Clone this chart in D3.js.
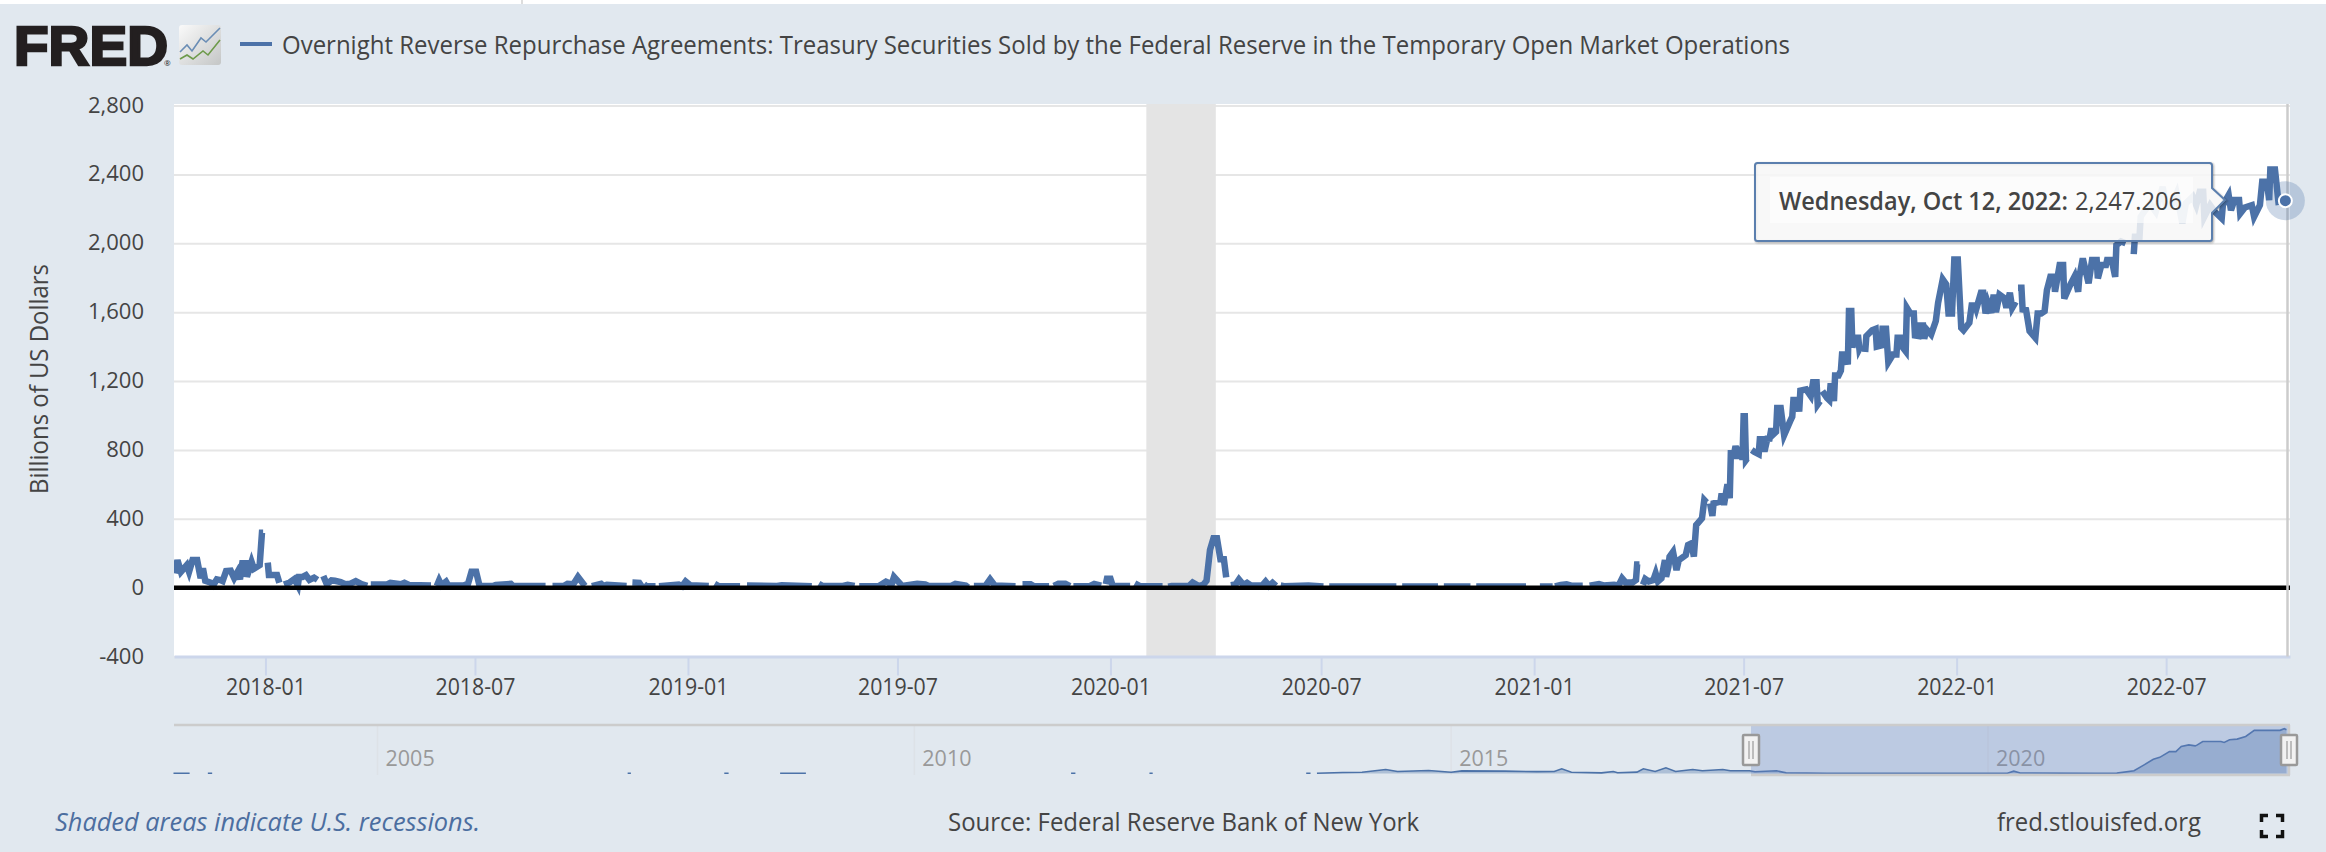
<!DOCTYPE html>
<html>
<head>
<meta charset="utf-8">
<script src="https://d3js.org/d3.v7.min.js"></script>
<style>
  html, body { margin: 0; padding: 0; background: #e1e8ef; overflow: hidden; }
  text { font-family: "Open Sans", sans-serif; fill: #444; }
</style>
</head>
<body>
<div id="chart"></div>
<script>
// values, one pair of arrays per year (null = gap in the line)
var dates2017 = ["10-15","10-17","10-20","10-25","10-27","10-30","11-03","11-06",
  "11-08","11-10","11-15","11-17","11-20","11-23","11-25","11-28",
  "12-02","12-05","12-08","12-10","12-12","12-15","12-16","12-20",
  "12-22","12-27","12-29","12-30","12-31"];
var values2017 = [83,160,92,131,92,160,160,55,
  112,40,28,15,48,44,38,96,
  98,55,92,48,141,141,63,150,
  110,131,319,319,null];

var dates2018 = ["01-03","01-04","01-08","01-11","01-13","01-15","01-17","01-22",
  "01-26","01-29","01-30","02-02","02-05","02-08","02-12","02-15",
  "02-17","02-20","02-23","02-27","03-02","03-07","03-11","03-15",
  "03-20","03-25","03-30","03-31","04-02","04-16","04-19","04-28",
  "05-01","05-05","05-24","05-27","05-29","05-31","06-02","06-06",
  "06-08","06-21","06-25","06-28","07-02","07-05","07-17","07-19",
  "08-01","08-03","08-31","09-03","09-06","09-16","09-19","09-24",
  "09-28","10-04","10-08","10-10","10-18","10-20","10-23","11-09",
  "11-11","11-14","11-20","11-22","11-23","11-24","11-26","12-04",
  "12-05","12-07","12-24","12-27","12-30"];
var values2018 = [145,73,73,73,28,null,18,30,
  50,12,62,62,72,45,58,45,
  null,68,20,42,40,32,20,22,
  38,20,10,null,18,18,28,20,
  28,15,12,null,10,42,14,35,
  12,12,22,92,92,10,10,15,
  22,9,9,null,9,10,22,20,
  62,10,null,8,22,10,16,9,
  null,30,28,8,null,20,8,8,
  null,8,18,8,36];

var dates2019 = ["01-03","01-19","01-21","01-24","01-27","02-15","02-18","02-21",
  "03-19","03-23","04-18","04-20","04-24","04-27","05-15","05-19",
  "05-25","05-27","05-29","06-15","06-21","06-26","06-28","07-05",
  "07-18","07-25","07-28","08-16","08-20","08-29","08-31","09-02",
  "09-05","09-15","09-19","09-23","10-11","10-13","10-17","10-24",
  "10-27","11-09","11-11","11-13","11-17","11-23","11-27","11-28",
  "11-30","12-14","12-18","12-24","12-26","12-28","12-29"];
var values2019 = [14,9,null,22,10,8,null,12,
  10,14,8,null,22,10,10,17,
  10,null,8,10,35,20,62,10,
  22,18,9,9,22,12,2,null,
  10,10,48,12,8,null,20,20,
  8,8,null,10,22,22,8,null,
  8,9,22,12,null,20,52];

var dates2020 = ["01-01","01-03","01-18","01-20","01-22","01-26","02-15","02-18",
  "02-20","02-23","03-09","03-12","03-17","03-21","03-24","03-27",
  "03-30","04-02","04-05","04-08","04-10","04-12","04-14","04-18",
  "04-21","04-25","04-28","05-01","05-11","05-14","05-17","05-20",
  "05-23","05-25","05-27","05-30","06-20","07-03","07-05","07-08",
  "09-04","09-06","09-09","10-10","10-12","10-15","11-07","11-10",
  "11-12","12-25","12-28"];
var values2020 = [52,10,10,null,25,10,8,null,
  5,10,10,30,10,15,40,219,
  287,287,165,165,60,null,14,18,
  48,15,28,14,12,35,10,28,
  10,null,12,8,12,7,null,7,
  7,null,7,7,null,7,7,null,
  7,7,null];

var dates2021 = ["01-06","01-17","01-18","01-19","01-24","01-29","02-02","02-12",
  "02-14","02-18","02-26","03-02","03-11","03-15","03-18","03-21",
  "03-27","03-30","03-31","04-02","04-03","04-05","04-07","04-10",
  "04-14","04-16","04-18","04-21","04-24","04-25","04-27","04-28",
  "05-01","05-04","05-06","05-12","05-14","05-17","05-19","05-21",
  "05-26","05-28","05-30","05-31","06-02","06-04","06-05","06-11",
  "06-12","06-14","06-17","06-19","06-20","06-22","06-24","06-27",
  "06-29","06-30","07-01","07-02","07-03","07-04","07-06","07-08",
  "07-10","07-14","07-15","07-18","07-19","07-22","07-23","07-25",
  "07-26","07-29","07-30","08-02","08-05","08-10","08-12","08-13",
  "08-17","08-18","08-19","08-24","08-28","08-30","09-02","09-03",
  "09-05","09-06","09-07","09-11","09-13","09-14","09-16","09-17",
  "09-18","09-21","09-23","09-24","09-27","09-29","09-30","10-02",
  "10-03","10-04","10-08","10-09","10-10","10-12","10-14","10-15",
  "10-20","10-23","10-24","10-28","10-29","11-01","11-03","11-07",
  "11-10","11-11","11-14","11-15","11-18","11-19","11-22","11-25",
  "11-26","11-29","11-30","12-03","12-04","12-06","12-10","12-14",
  "12-16","12-20","12-23","12-25","12-28","12-30"];
var values2021 = [7,7,null,7,15,19,11,11,
  null,11,21,13,17,13,54,30,
  30,44,135,135,null,17,50,36,
  44,83,36,54,160,63,120,180,
  208,102,160,189,247,257,180,363,
  402,509,495,null,489,416,489,499,
  547,480,600,520,799,750,822,750,
  818,741,996,996,741,750,null,799,
  790,776,861,861,790,880,850,925,
  886,905,1043,1043,886,964,993,1089,
  1089,1022,1144,1151,1112,1193,1193,1064,
  1083,null,1141,1102,1089,1170,1170,1083,
  1232,1232,1260,1354,1354,1296,1606,1606,
  1393,1451,1451,1387,1400,null,1368,1461,
  1495,1503,1399,1406,1503,1503,1310,1354,
  1354,1451,1451,1399,1373,1625,1592,1592,
  1464,1461,1522,1522,1445,1500,1470,1548,
  1654,1790,1761,1592,1592,1906];

var dates2022 = ["01-02","01-05","01-07","01-12","01-14","01-17","01-18","01-22",
  "01-24","01-26","01-28","01-31","02-02","02-04","02-07","02-11",
  "02-13","02-16","02-18","02-21","02-22","02-23","02-26","02-27",
  "03-02","03-05","03-10","03-12","03-15","03-18","03-20","03-23",
  "03-26","03-27","03-31","04-03","04-04","04-09","04-13","04-16",
  "04-17","04-20","04-25","04-28","05-02","05-03","05-06","05-10",
  "05-11","05-15","05-18","05-19","05-23","05-27","05-30","06-03",
  "06-04","06-08","06-09","06-12","06-17","06-22","06-28","07-01",
  "07-05","07-10","07-15","07-18","07-24","07-27","07-30","08-02",
  "08-03","08-08","08-12","08-18","08-19","08-24","08-26","08-29",
  "09-02","09-03","09-07","09-13","09-15","09-20","09-22","09-26",
  "09-28","09-29","10-03","10-06","10-12"];
var values2022 = [1906,1509,1495,1538,1639,1639,1619,1712,
  1712,1592,1654,1596,1702,1600,1702,1683,
  1625,1712,1625,1660,null,1741,1741,1615,
  1612,1490,1451,1592,1592,1606,1728,1805,
  1805,1718,1873,1873,1679,1757,1809,1718,
  1805,1912,1767,1902,1902,1796,1873,1873,
  1902,1902,1805,1989,2010,2000,null,1937,
  2038,2038,2154,2183,2230,2183,2328,2212,
  2212,2289,2115,2231,2270,2221,2299,2299,
  2154,2221,2183,2144,2221,2280,2192,2251,
  2251,2173,2208,2221,2154,2221,2357,2357,
  2251,2429,2429,2241,2247];

var recessionStart = "2020-02-01";
var recessionEnd = "2020-04-01";
var yTicks = [-400, 0, 400, 800, 1200, 1600, 2000, 2400, 2800];
var xTicks = ["2018-01-01","2018-07-01","2019-01-01","2019-07-01","2020-01-01","2020-07-01","2021-01-01","2021-07-01","2022-01-01","2022-07-01"];
var lastDate = "2022-10-12";
var lastValue = 2247.206;

// navigator: the whole series since 2003, much coarser
var navYears = [2003.1,2003.25,2003.3,2003.42,2003.46,2003.5,2007.33,2007.36,2007.4,
  2008.23,2008.27,2008.3,2008.75,2008.99,2009.02,2011.46,2011.5,2011.55,2012.19,2012.22,2012.3,
  2013.65,2013.69,2013.72,2013.75,2013.99,2014.17,2014.39,2014.5,2014.79,2015.0,2015.1,2015.5,
  2015.8,2015.96,2016.03,2016.12,2016.4,2016.51,2016.55,2016.73,2016.79,2016.9,2017.0,2017.09,
  2017.25,2017.34,2017.53,2017.6,2017.78,2017.83,2018.03,2018.12,2018.5,2019.0,2019.5,2020.0,
  2020.18,2020.24,2020.3,2021.0,2021.2,2021.36,2021.45,2021.54,2021.6,2021.69,2021.75,2021.8,
  2021.87,2021.93,2021.95,2022.0,2022.17,2022.2,2022.25,2022.32,2022.4,2022.48,2022.72,2022.76,2022.78];
var navValues = [10,10,null,10,10,null,10,10,null,
  10,10,null,10,10,null,10,10,null,10,10,null,
  10,10,null,10,54,70,216,110,160,70,140,125,
  100,105,250,70,36,108,40,72,252,108,306,108,
  216,144,216,144,144,90,144,36,10,8,10,10,
  10,126,30,8,18,144,450,756,864,1170,1170,1440,
  1530,1476,1530,1710,1710,1656,1800,1836,1980,2304,2304,2394,2340];
var navLabels = [2005, 2010, 2015, 2020];

var titleText = "Overnight Reverse Repurchase Agreements: Treasury Securities Sold by the Federal Reserve in the Temporary Open Market Operations";
var yLabel = "Billions of US Dollars";

function yearRows(year, days, vals) {
  return days.map(function (md, i) {
    return { date: new Date(year + "-" + md + "T00:00:00Z"), value: vals[i] };
  });
}

var rrpData = [].concat(
  yearRows(2017, dates2017, values2017),
  yearRows(2018, dates2018, values2018),
  yearRows(2019, dates2019, values2019),
  yearRows(2020, dates2020, values2020),
  yearRows(2021, dates2021, values2021),
  yearRows(2022, dates2022, values2022)
);

var width = 2326, height = 852;
var plotLeft = 174, plotRight = 2290, plotTop = 104, plotBottom = 656.5;
var lineColor = "#4c72a8";

var svg = d3.select("#chart").append("svg")
  .attr("width", width).attr("height", height)
  .style("display", "block");

svg.append("rect").attr("width", width).attr("height", height).attr("fill", "#e1e8ef");
svg.append("rect").attr("width", width).attr("height", 4).attr("fill", "#fff");
svg.append("rect").attr("x", 521).attr("width", 2).attr("height", 4).attr("fill", "#ddd");

var x = d3.scaleUtc()
  .domain([new Date("2017-10-14T00:00:00Z"), new Date("2022-10-16T00:00:00Z")])
  .range([plotLeft, plotRight]);

var y = d3.scaleLinear().domain([-400, 2800]).range([plotBottom, 105.5]);

svg.append("rect")
  .attr("x", plotLeft).attr("y", plotTop)
  .attr("width", plotRight - plotLeft).attr("height", plotBottom - plotTop)
  .attr("fill", "#fff");

// gridlines and y labels, FRED writes the minus as a plain hyphen
var yAxis = svg.append("g")
  .attr("transform", "translate(" + plotLeft + ",0)")
  .call(d3.axisLeft(y).tickValues(yTicks).tickSize(-(plotRight - plotLeft)).tickPadding(30)
    .tickFormat(function (d) { return d3.format(",")(d).replace("\u2212", "-"); }));
yAxis.select(".domain").remove();
yAxis.selectAll("line").attr("stroke", "#e6e6e6").attr("stroke-width", 2);
yAxis.selectAll("text").style("font-size", "22px").attr("dy", "0.3em").attr("fill", "#444");

// recession band
svg.append("rect")
  .attr("x", x(new Date(recessionStart + "T00:00:00Z"))).attr("y", plotTop)
  .attr("width", x(new Date(recessionEnd + "T00:00:00Z")) - x(new Date(recessionStart + "T00:00:00Z")))
  .attr("height", plotBottom - plotTop)
  .attr("fill", "#e4e4e4");

// x axis
var xAxis = svg.append("g")
  .attr("transform", "translate(0," + plotBottom + ")")
  .call(d3.axisBottom(x)
    .tickValues(xTicks.map(function (d) { return new Date(d + "T00:00:00Z"); }))
    .tickSizeInner(19).tickSizeOuter(0).tickPadding(3).tickFormat(d3.utcFormat("%Y-%m")));
xAxis.select(".domain").attr("stroke", "#ccd6eb").attr("stroke-width", 3);
xAxis.selectAll("line").attr("stroke", "#ccd6eb").attr("stroke-width", 2);
xAxis.selectAll("text").style("font-size", "23px").attr("fill", "#444")
  .attr("textLength", 80).attr("lengthAdjust", "spacingAndGlyphs");

svg.append("clipPath").attr("id", "plotClip").append("rect")
  .attr("x", plotLeft).attr("y", plotTop)
  .attr("width", plotRight - plotLeft).attr("height", plotBottom - plotTop);

// the series
var line = d3.line()
  .defined(function (d) { return d.value !== null; })
  .x(function (d) { return x(d.date); })
  .y(function (d) { return y(d.value); });

svg.append("path")
  .datum(rrpData)
  .attr("clip-path", "url(#plotClip)")
  .attr("fill", "none")
  .attr("stroke", lineColor)
  .attr("stroke-width", 6.5)
  .attr("d", line);

// black zero line and right border sit on top of the series
svg.append("line")
  .attr("x1", plotLeft).attr("x2", plotRight)
  .attr("y1", y(0)).attr("y2", y(0))
  .attr("stroke", "#000").attr("stroke-width", 4.5);
svg.append("line")
  .attr("x1", 2287.5).attr("x2", 2287.5)
  .attr("y1", plotTop).attr("y2", plotBottom)
  .attr("stroke", "#ccc").attr("stroke-width", 2.5);

// y axis title
svg.append("text")
  .attr("transform", "translate(48,379) rotate(-90)")
  .attr("text-anchor", "middle")
  .attr("textLength", 230).attr("lengthAdjust", "spacingAndGlyphs")
  .style("font-size", "25px")
  .text(yLabel);

// header
svg.append("text")
  .attr("x", 14).attr("y", 65)
  .attr("textLength", 154).attr("lengthAdjust", "spacingAndGlyphs")
  .style("font-family", "'Liberation Sans', sans-serif")
  .style("font-weight", 700).style("font-size", "55px")
  .style("fill", "#231f20").style("stroke", "#231f20").style("stroke-width", 2.5)
  .text("FRED");
svg.append("text")
  .attr("x", 164).attr("y", 66)
  .style("font-size", "8px").style("fill", "#231f20")
  .text("®");

var iconGrad = svg.append("linearGradient").attr("id", "iconGrad")
  .attr("x1", 0).attr("y1", 0).attr("x2", 1).attr("y2", 1);
iconGrad.append("stop").attr("offset", 0).attr("stop-color", "#fafafa");
iconGrad.append("stop").attr("offset", 1).attr("stop-color", "#c4c6c6");
svg.append("rect")
  .attr("x", 179).attr("y", 25).attr("width", 42).attr("height", 40).attr("rx", 3)
  .attr("fill", "url(#iconGrad)");
svg.append("polyline")
  .attr("points", "180,52 187,45 192,51 201,38 206,42 220,28")
  .attr("fill", "none").attr("stroke", "#6a8db5").attr("stroke-width", 1.6);
svg.append("polyline")
  .attr("points", "180,59 187,55 193,59 203,51 208,55 220,40")
  .attr("fill", "none").attr("stroke", "#6d9a4a").attr("stroke-width", 1.6);

svg.append("line")
  .attr("x1", 240).attr("x2", 272).attr("y1", 44).attr("y2", 44)
  .attr("stroke", lineColor).attr("stroke-width", 4);
svg.append("text")
  .attr("x", 282).attr("y", 54)
  .attr("textLength", 1508).attr("lengthAdjust", "spacingAndGlyphs")
  .style("font-size", "26px")
  .text(titleText);

// navigator
var navX = d3.scaleLinear().domain([2005, 2020]).range([377.5, 1988]);
var navY = d3.scaleLinear().domain([0, 2430]).range([773.5, 728]);
var navRows = navYears.map(function (yr, i) { return { year: yr, value: navValues[i] }; });
var selLeft = 1751, selRight = 2288, navTop = 725, navBottom = 775;

navLabels.forEach(function (yr) {
  svg.append("line")
    .attr("x1", navX(yr)).attr("x2", navX(yr))
    .attr("y1", navTop).attr("y2", navBottom)
    .attr("stroke", "#dde2e7").attr("stroke-width", 1.5);
  svg.append("text")
    .attr("x", navX(yr) + 8).attr("y", 766)
    .style("font-size", "21.5px").style("fill", "#999")
    .text(yr);
});

svg.append("path")
  .datum(navRows)
  .attr("fill", lineColor).attr("fill-opacity", 0.35)
  .attr("d", d3.area()
    .defined(function (d) { return d.value !== null; })
    .x(function (d) { return navX(d.year); })
    .y0(navY(0))
    .y1(function (d) { return navY(d.value); }));
svg.append("path")
  .datum(navRows)
  .attr("fill", "none").attr("stroke", lineColor).attr("stroke-width", 1.6)
  .attr("d", d3.line()
    .defined(function (d) { return d.value !== null; })
    .x(function (d) { return navX(d.year); })
    .y(function (d) { return navY(d.value); }));

svg.append("rect")
  .attr("x", selLeft).attr("y", navTop)
  .attr("width", selRight - selLeft).attr("height", navBottom - navTop)
  .attr("fill", "#6685c2").attr("fill-opacity", 0.3);
svg.append("line")
  .attr("x1", plotLeft).attr("x2", plotRight).attr("y1", navTop).attr("y2", navTop)
  .attr("stroke", "#ccc").attr("stroke-width", 2.5);
svg.append("line")
  .attr("x1", selLeft).attr("x2", plotRight).attr("y1", navBottom).attr("y2", navBottom)
  .attr("stroke", "#ccc").attr("stroke-width", 2.5);
svg.append("line")
  .attr("x1", selRight + 1).attr("x2", selRight + 1).attr("y1", navTop).attr("y2", navBottom)
  .attr("stroke", "#ccc").attr("stroke-width", 2.5);

[selLeft, selRight + 1].forEach(function (hx) {
  var h = svg.append("g").attr("transform", "translate(" + hx + ",750)");
  h.append("rect")
    .attr("x", -8).attr("y", -15).attr("width", 16).attr("height", 30).attr("rx", 1)
    .attr("fill", "#f2f2f2").attr("stroke", "#999").attr("stroke-width", 2.5);
  [-2, 2].forEach(function (o) {
    h.append("line").attr("x1", o).attr("x2", o).attr("y1", -9).attr("y2", 9)
      .attr("stroke", "#999").attr("stroke-width", 1.2);
  });
});

// footer
svg.append("text")
  .attr("x", 55).attr("y", 831)
  .attr("textLength", 425).attr("lengthAdjust", "spacingAndGlyphs")
  .style("font-size", "26px").style("font-style", "italic").style("fill", "#4c6ea0")
  .text("Shaded areas indicate U.S. recessions.");
svg.append("text")
  .attr("x", 948).attr("y", 831)
  .attr("textLength", 471).attr("lengthAdjust", "spacingAndGlyphs")
  .style("font-size", "26px")
  .text("Source: Federal Reserve Bank of New York");
svg.append("text")
  .attr("x", 1997).attr("y", 831)
  .attr("textLength", 204).attr("lengthAdjust", "spacingAndGlyphs")
  .style("font-size", "26px")
  .text("fred.stlouisfed.org");

// fullscreen icon corners
var corners = svg.append("g").attr("fill", "none").attr("stroke", "#111").attr("stroke-width", 3.5);
corners.append("path").attr("d", "M2261.5 822V815.5H2268");
corners.append("path").attr("d", "M2276 815.5H2282.5V822");
corners.append("path").attr("d", "M2261.5 830V836.5H2268");
corners.append("path").attr("d", "M2276 836.5H2282.5V830");

// hover marker on the last point
var lastX = x(new Date(lastDate + "T00:00:00Z"));
var lastY = y(lastValue);
svg.append("circle").attr("cx", lastX).attr("cy", lastY).attr("r", 19.5)
  .attr("fill", lineColor).attr("fill-opacity", 0.28);
svg.append("circle").attr("cx", lastX).attr("cy", lastY).attr("r", 6.5)
  .attr("fill", lineColor).attr("stroke", "#fff").attr("stroke-width", 2);

// tooltip
var tipPath = "M1757.5 163H2209.5Q2212 163 2212 165.5V188L2225 200L2212 213V238.5Q2212 241 2209.5 241H1757.5Q1755 241 1755 238.5V165.5Q1755 163 1757.5 163Z";
[[5, 0.05], [3, 0.1], [1, 0.15]].forEach(function (s) {
  svg.append("path")
    .attr("d", tipPath).attr("transform", "translate(1,1)")
    .attr("fill", "none").attr("stroke", "#000")
    .attr("stroke-width", s[0]).attr("stroke-opacity", s[1]);
});
svg.append("path")
  .attr("d", tipPath)
  .attr("fill", "#f7f7f7").attr("fill-opacity", 0.85)
  .attr("stroke", "#5b7fae").attr("stroke-width", 2);
svg.append("rect")
  .attr("x", 1770).attr("y", 177).attr("width", 423).attr("height", 46)
  .attr("fill", "#fff").attr("fill-opacity", 0.6);

svg.append("text")
  .attr("x", 1779).attr("y", 210)
  .attr("textLength", 289).attr("lengthAdjust", "spacingAndGlyphs")
  .style("font-size", "26px").style("font-weight", 600)
  .text("Wednesday, Oct 12, 2022:");
svg.append("text")
  .attr("x", 2075).attr("y", 210)
  .attr("textLength", 107).attr("lengthAdjust", "spacingAndGlyphs")
  .style("font-size", "26px")
  .text(d3.format(",.3f")(lastValue));
</script>
</body>
</html>
